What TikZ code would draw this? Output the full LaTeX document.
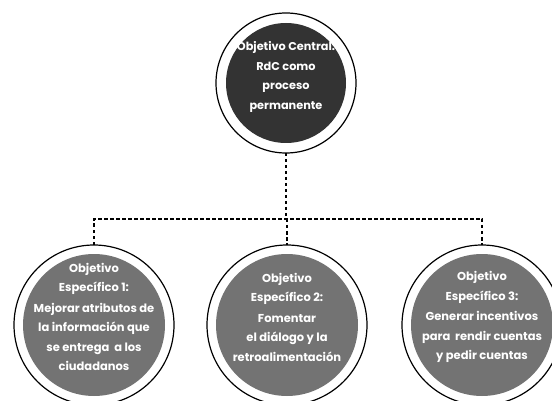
\documentclass[tikz,border=0pt]{standalone}
\usepackage{fontspec}
\setsansfont{Poppins}
\begin{document}
\begin{tikzpicture}[x=1pt,y=-1pt,
    objcentral/.style={circle,fill=black!80,minimum size=120pt,inner sep=0pt,outer sep=10pt},
    objesp/.style={circle,fill=black!55,minimum size=142pt,inner sep=0pt,outer sep=9pt},
    texto/.style={text=white,align=center,inner sep=0pt,font=\sffamily\bfseries\fontsize{11.5}{19.5}\selectfont},
    anillo/.style={black,line width=1.2pt},
    conector/.style={black,line width=1.3pt,dash pattern=on 3.5pt off 2.5pt}]
    \useasboundingbox (0,0) rectangle (552,401);

    \node[objcentral] (central) at (286,83) {};
    \draw[anillo] (central.center) circle[radius=70];
    \node[texto,font=\sffamily\bfseries\fontsize{11.3}{19.5}\selectfont] (centralt) at ([yshift=6pt]central.center)
        {Objetivo Central:\\RdC como\\proceso\\permanente};

    \node[objesp] (esp1) at (94,325) {};
    \node[objesp] (esp2) at (287,325) {};
    \node[objesp] (esp3) at (482,325) {};
    \foreach \n in {esp1,esp2,esp3}
        \draw[anillo] (\n.center) circle[radius=80];

    \node[texto] (esp1t) at ([yshift=8pt]esp1.center) {Objetivo\\Específico 1:\\[1pt]Mejorar atributos de\\la información que\\se entrega \ a los\\ciudadanos};
    \node[texto] (esp2t) at ([yshift=8pt]esp2.center) {Objetivo\\Específico 2:\\[1pt]Fomentar\\el diálogo y la\\retroalimentación};
    \node[texto] (esp3t) at ([yshift=8pt]esp3.center) {Objetivo\\Específico 3:\\[1pt]Generar incentivos\\para \ rendir cuentas\\y pedir cuentas};

    % conectores
    \coordinate (bus) at (287,219);
    \draw[conector] (central.south) -- (central.south |- bus);
    \draw[conector] (esp1.north) |- (bus) -| (esp3.north);
    \draw[conector] (bus) -- (esp2.north);
\end{tikzpicture}
\end{document}
